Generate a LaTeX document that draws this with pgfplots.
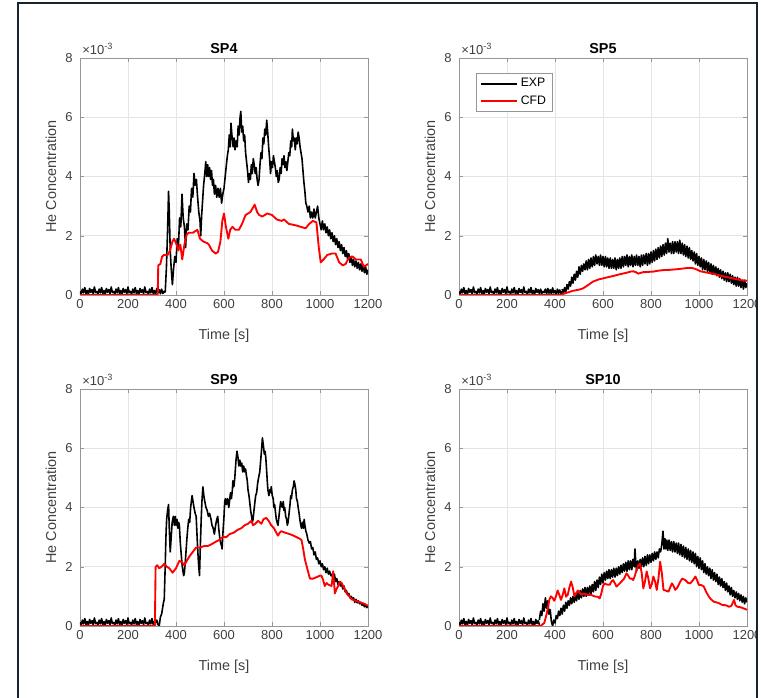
\documentclass[border=0pt]{standalone}
\usepackage{pgfplots}
\pgfplotsset{compat=1.18}
\usepackage{pgfplotstable}
\usepackage{fontspec}
\setmainfont{Liberation Sans}

\definecolor{axgray}{RGB}{150,150,150}
\definecolor{txtgray}{RGB}{64,64,64}
\definecolor{gridgray}{RGB}{228,228,228}
\definecolor{framec}{RGB}{25,35,45}

\tikzset{
  exp/.style={black, line width=1.2pt, line join=round},
  cfd/.style={red, line width=1.4pt, line join=round},
}

\pgfplotsset{
  panel/.style={
    scale only axis, width=216pt, height=177.75pt, anchor=south west,
    xmin=0, xmax=1200, ymin=0, ymax=8,
    xtick={0,200,...,1200}, ytick={0,2,...,8},
    /pgf/number format/1000 sep={},
    /pgf/number format/assume math mode=true,
    tick align=inside, major tick length=3pt,
    grid=major, major grid style={draw=gridgray, line width=0.5pt},
    axis line style={draw=axgray}, tick style={draw=axgray},
    ticklabel style={font=\fontsize{9.75}{11}\selectfont, text=txtgray},
    yticklabel style={xshift=-2pt},
    xlabel={Time [s]}, ylabel={He Concentration},
    label style={font=\fontsize{10.8}{12}\selectfont, text=txtgray},
    xlabel style={yshift=-8pt},
    title style={font=\fontsize{10.8}{12}\selectfont\bfseries, yshift=-6.5pt},
    after end axis/.code={
      \node[anchor=base west, inner sep=0pt, xshift=1.5pt, yshift=2.5pt,
            font=\fontsize{9.75}{11}\selectfont, text=txtgray]
        at (rel axis cs:0,1) {×10\textsuperscript{-3}};
    },
  },
}

% shared noisy baseline of the measurements (x 10^-3)
\pgfplotstableread{
t c
0 .12
5 .03
10 .2
15 .07
20 .25
25 .05
30 .15
35 .02
40 .22
45 .09
50 .18
55 .04
60 .27
65 .08
70 .12
75 .03
80 .2
85 .07
90 .25
95 .05
100 .15
105 .02
110 .22
115 .09
120 .18
125 .04
130 .27
135 .08
140 .12
145 .03
150 .2
155 .07
160 .25
165 .05
170 .15
175 .02
180 .22
185 .09
190 .18
195 .04
200 .27
205 .08
210 .12
215 .03
220 .2
225 .07
230 .25
235 .05
240 .15
245 .02
250 .22
255 .09
260 .18
265 .04
270 .27
275 .08
280 .12
285 .03
290 .2
295 .07
300 .25
305 .05
310 .15
315 .02
320 .22
325 .09
330 .18
335 .04
340 .2
345 .05
350 .12
355 .08
360 .2
365 .04
370 .22
375 .06
380 .18
385 .03
390 .24
395 .07
400 .15
405 .02
410 .2
415 .06
420 .17
425 .04
430 .12
}\base

\begin{document}
\begin{tikzpicture}
\path[use as bounding box] (0pt,0pt) rectangle (570.75pt,523.5pt);
\begin{scope}
\clip (0pt,0pt) rectangle (566.25pt,523.5pt);

% ---------------- SP4 ----------------
\begin{axis}[panel, at={(60pt,302.25pt)}, title={SP4}]
\addplot[exp, restrict x to domain=0:355] table {\base};
\addplot[exp] coordinates {(355,.1)(360,.9)(365,2.2)(369,3.5)(372,2.8)(376,1.5)(380,.9)(385,.35)(390,.9)(395,1.3)(400,1.1)(405,1.9)(410,1.6)(415,2.6)(420,2.3)(425,3.4)(430,2.6)(435,2.3)(440,1.6)(445,2.4)(450,2.2)(455,3.0)(460,2.8)(465,3.6)(470,3.3)(475,4.1)(480,3.7)(485,3.9)(490,3.3)(495,2.8)(500,2.5)(503,2.0)(507,2.7)(511,3.2)(515,3.7)(520,4.1)(524,4.5)(528,4.0)(532,4.4)(536,4.0)(540,4.3)(544,3.9)(548,4.2)(552,3.7)(556,3.9)(560,3.4)(565,3.7)(570,3.3)(575,3.6)(580,3.3)(585,3.6)(590,3.1)(595,3.4)(600,3.6)(605,4.0)(610,4.4)(614,4.7)(618,4.9)(622,5.4)(626,5.0)(629,5.8)(633,5.4)(638,5.0)(642,5.3)(646,4.9)(650,5.2)(655,5.0)(659,5.7)(663,5.4)(667,6.0)(670,6.2)(674,5.5)(678,5.7)(682,5.2)(686,5.4)(690,4.8)(694,4.5)(698,4.2)(702,3.8)(706,4.1)(710,3.9)(714,4.4)(718,4.1)(722,4.6)(726,4.4)(730,4.1)(734,4.3)(738,3.9)(742,3.7)(746,3.9)(750,4.4)(754,4.8)(758,4.6)(762,5.3)(766,5.1)(770,5.6)(774,5.4)(778,5.9)(782,5.5)(786,5.0)(790,4.6)(794,4.1)(798,4.5)(802,4.3)(806,4.7)(810,4.5)(814,4.3)(818,4.0)(822,4.2)(826,3.8)(830,3.9)(834,4.3)(838,4.1)(842,4.6)(846,4.4)(850,4.7)(854,4.3)(858,4.5)(862,4.2)(866,4.5)(870,4.8)(874,4.7)(878,5.2)(882,5.0)(885,5.6)(889,5.2)(893,5.3)(897,4.9)(901,5.3)(905,5.1)(909,5.5)(913,5.3)(917,5.0)(921,4.8)(925,4.6)(929,4.2)(933,3.8)(937,3.5)(941,3.1)(945,3.0)(950,2.8)(955,3.0)(960,2.6)(965,2.8)(970,2.6)(975,2.9)(980,2.6)(985,2.8)(990,3.0)(995,2.6)(1000,2.4)(1005,2.2)(1010,2.5)(1015,2.2)(1020,2.4)(1025,2.1)(1030,2.3)(1035,2.0)(1040,2.2)(1045,1.9)(1050,2.1)(1055,1.8)(1060,2.0)(1065,1.7)(1070,1.9)(1075,1.6)(1080,1.8)(1085,1.5)(1090,1.7)(1095,1.4)(1100,1.6)(1105,1.3)(1110,1.5)(1115,1.2)(1120,1.4)(1125,1.1)(1130,1.3)(1135,1.0)(1140,1.2)(1145,.95)(1150,1.15)(1155,.9)(1160,1.1)(1165,.85)(1170,1.05)(1175,.8)(1180,1.0)(1185,.75)(1190,.95)(1195,.7)(1200,.85)};
\addplot[cfd] coordinates {(0,0)(324,0)(326,1.0)(335,1.05)(342,1.3)(350,1.35)(365,1.35)(375,1.5)(385,1.8)(392,1.9)(400,1.75)(410,1.5)(418,1.7)(426,1.2)(435,1.7)(445,2.05)(454,2.1)(470,2.1)(489,2.2)(500,1.9)(515,1.8)(530,1.75)(537,1.7)(550,1.5)(565,1.4)(575,1.45)(585,1.8)(593,2.5)(600,2.75)(608,2.3)(618,1.9)(626,2.2)(635,2.3)(648,2.2)(662,2.2)(675,2.4)(690,2.7)(710,2.8)(728,3.05)(738,2.8)(746,2.7)(760,2.65)(780,2.75)(800,2.7)(820,2.55)(840,2.5)(850,2.55)(870,2.4)(900,2.35)(920,2.3)(940,2.25)(955,2.4)(970,2.5)(985,2.45)(995,1.6)(1003,1.1)(1015,1.2)(1030,1.35)(1050,1.4)(1065,1.4)(1080,1.1)(1095,1.0)(1107,1.05)(1120,1.25)(1135,1.3)(1150,1.2)(1170,1.2)(1183,.95)(1192,1.0)(1200,1.05)};
\end{axis}

% ---------------- SP5 ----------------
\begin{axis}[panel, at={(344.25pt,302.25pt)}, title={SP5},
  legend style={at={(rel axis cs:0.059,0.937)}, anchor=north west,
    draw=axgray, fill=white, font=\fontsize{9.2}{10}\selectfont,
    inner xsep=3pt, inner ysep=2pt, row sep=1pt, cells={anchor=west}},
  legend image code/.code={\draw[#1] (0pt,0pt) -- (27pt,0pt);}]
\addplot[exp, forget plot, restrict x to domain=0:430] table {\base};
\addplot[exp] coordinates {(430,.2)(435,.05)(440,.25)(445,.1)(450,.35)(455,.2)(460,.45)(465,.3)(470,.6)(475,.4)(480,.7)(485,.5)(490,.8)(495,.6)(500,.95)(505,.7)(510,1.0)(515,.8)(520,1.05)(525,.85)(530,1.15)(535,.85)(540,1.2)(545,.9)(550,1.25)(555,.95)(560,1.3)(565,1.0)(570,1.35)(575,1.05)(580,1.3)(585,1.0)(590,1.35)(595,1.0)(600,1.3)(605,.95)(610,1.3)(615,.95)(620,1.25)(625,.9)(630,1.25)(635,.9)(640,1.2)(645,.9)(650,1.25)(655,.85)(660,1.2)(665,.9)(670,1.25)(675,.9)(680,1.3)(685,.95)(690,1.3)(695,1.0)(700,1.35)(705,.95)(710,1.3)(715,1.0)(720,1.35)(725,.95)(730,1.3)(735,1.0)(740,1.35)(745,1.0)(750,1.3)(755,.95)(760,1.35)(765,1.0)(770,1.35)(775,1.05)(780,1.4)(785,1.0)(790,1.4)(795,1.05)(800,1.45)(805,1.1)(810,1.5)(815,1.15)(820,1.55)(825,1.2)(830,1.6)(835,1.25)(840,1.65)(845,1.3)(850,1.7)(855,1.35)(860,1.75)(865,1.4)(870,1.9)(875,1.45)(880,1.75)(885,1.4)(890,1.8)(895,1.4)(900,1.8)(905,1.45)(910,1.8)(915,1.4)(920,1.85)(925,1.4)(930,1.75)(935,1.35)(940,1.7)(945,1.3)(950,1.65)(955,1.25)(960,1.6)(965,1.2)(970,1.5)(975,1.15)(980,1.45)(985,1.05)(990,1.4)(995,1.0)(1000,1.3)(1005,.95)(1010,1.25)(1015,.85)(1020,1.2)(1025,.85)(1030,1.15)(1035,.8)(1040,1.1)(1045,.75)(1050,1.05)(1055,.7)(1060,1.0)(1065,.7)(1070,.95)(1075,.65)(1080,.9)(1085,.6)(1090,.85)(1095,.55)(1100,.8)(1105,.5)(1110,.75)(1115,.45)(1120,.75)(1125,.45)(1130,.7)(1135,.4)(1140,.65)(1145,.35)(1150,.6)(1155,.3)(1160,.6)(1165,.3)(1170,.55)(1175,.25)(1180,.5)(1185,.2)(1190,.5)(1195,.25)(1200,.4)};
\addlegendentry{EXP}
\addplot[cfd] coordinates {(0,0)(420,0)(440,.05)(474,.14)(500,.18)(516,.22)(535,.32)(558,.45)(580,.52)(600,.56)(620,.6)(642,.64)(670,.7)(698,.75)(715,.79)(726,.8)(737,.77)(747,.72)(758,.75)(768,.77)(790,.78)(810,.79)(830,.82)(852,.84)(880,.85)(908,.87)(930,.89)(950,.91)(970,.91)(985,.88)(1006,.8)(1030,.76)(1062,.71)(1090,.65)(1118,.6)(1146,.55)(1174,.5)(1200,.48)};
\addlegendentry{CFD}
\end{axis}

% ---------------- SP9 ----------------
\begin{axis}[panel, at={(60pt,54pt)}, title={SP9}]
\addplot[exp, restrict x to domain=0:315] table {\base};
\addplot[exp] coordinates {(315,.1)(320,.2)(325,.05)(330,0)(335,.3)(340,.4)(344,.6)(348,.8)(351,.9)(355,2.0)(358,3.0)(361,3.6)(365,3.9)(369,4.1)(372,3.3)(376,2.5)(380,3.0)(384,3.5)(389,3.7)(393,3.4)(397,3.7)(400,3.4)(404,3.6)(408,3.3)(411,3.5)(414,3.4)(418,2.8)(422,2.4)(425,2.1)(428,1.9)(432,1.7)(435,1.8)(440,2.3)(445,2.9)(449,3.3)(453,3.6)(457,3.5)(461,4.0)(464,4.2)(467,4.4)(471,4.2)(475,4.0)(480,3.8)(484,3.7)(488,3.0)(491,2.5)(494,2.1)(498,1.7)(501,2.6)(505,3.6)(508,4.2)(512,4.7)(516,4.4)(520,4.2)(525,4.0)(530,3.9)(535,3.7)(540,3.8)(546,3.6)(550,3.4)(555,3.3)(560,3.1)(565,3.4)(570,3.6)(574,3.7)(578,3.3)(582,3.0)(586,2.8)(590,2.7)(592,2.6)(596,3.2)(600,3.7)(603,4.2)(606,4.3)(610,4.1)(615,4.3)(620,4.0)(623,4.2)(627,4.5)(631,4.3)(635,4.6)(637,4.9)(641,4.7)(645,5.0)(650,5.6)(654,5.9)(658,5.7)(662,5.4)(666,5.6)(670,5.4)(674,5.5)(678,5.2)(682,5.4)(686,5.2)(690,5.3)(693,5.1)(697,4.9)(700,4.6)(704,4.4)(707,4.2)(711,3.9)(715,3.7)(718,3.5)(721,3.6)(725,3.9)(729,4.2)(732,4.4)(736,4.5)(740,4.8)(744,5.0)(749,5.2)(753,5.6)(757,6.0)(760,6.35)(764,6.1)(768,5.8)(771,5.9)(774,5.7)(778,5.2)(781,4.8)(783,4.6)(787,4.4)(791,4.6)(794,4.5)(797,4.7)(801,4.4)(805,4.3)(808,4.0)(811,4.1)(815,3.8)(818,3.6)(821,3.5)(825,3.4)(829,3.7)(833,4.0)(836,4.2)(839,4.1)(843,4.0)(847,4.2)(850,3.9)(853,4.0)(857,3.7)(861,3.6)(864,3.4)(867,3.5)(871,3.8)(875,4.1)(878,4.4)(881,4.3)(885,4.6)(889,4.7)(892,4.9)(895,4.8)(899,4.6)(902,4.3)(906,4.2)(909,4.0)(913,3.8)(916,3.6)(920,3.4)(923,3.3)(927,3.5)(931,3.3)(934,3.6)(937,3.4)(941,3.2)(945,3.1)(950,2.9)(955,2.8)(960,2.85)(965,2.6)(970,2.65)(975,2.4)(980,2.5)(985,2.25)(990,2.3)(995,2.1)(1000,2.2)(1005,2.0)(1010,2.1)(1015,1.9)(1020,2.0)(1025,1.8)(1030,1.95)(1035,1.75)(1040,1.85)(1045,1.7)(1050,1.75)(1055,1.55)(1060,1.75)(1065,1.5)(1070,1.6)(1075,1.4)(1080,1.5)(1085,1.35)(1090,1.45)(1095,1.25)(1100,1.35)(1105,1.15)(1110,1.2)(1115,1.05)(1120,1.1)(1125,.95)(1130,1.0)(1135,.9)(1140,.95)(1145,.8)(1150,.9)(1155,.78)(1160,.85)(1165,.75)(1170,.8)(1175,.7)(1180,.75)(1185,.65)(1190,.7)(1195,.62)(1200,.68)};
\addplot[cfd] coordinates {(0,0)(312,0)(315,2.0)(322,2.05)(330,1.95)(340,2.0)(351,2.1)(362,2.0)(372,1.95)(386,1.8)(400,1.95)(414,2.2)(425,2.15)(435,2.05)(445,2.2)(456,2.35)(470,2.5)(484,2.65)(500,2.65)(518,2.7)(532,2.7)(546,2.75)(567,2.85)(580,2.9)(595,3.0)(610,3.0)(623,3.1)(640,3.15)(658,3.25)(672,3.3)(686,3.4)(700,3.45)(707,3.5)(714,3.55)(721,3.4)(730,3.45)(742,3.55)(749,3.5)(756,3.45)(764,3.6)(776,3.65)(786,3.55)(797,3.4)(808,3.3)(818,3.15)(825,3.05)(832,3.15)(839,3.2)(855,3.15)(874,3.1)(890,3.05)(902,3.0)(915,2.95)(923,2.9)(930,2.6)(937,2.25)(945,2.0)(958,1.6)(972,1.6)(986,1.65)(1000,1.7)(1006,1.7)(1013,1.55)(1020,1.35)(1028,1.45)(1034,1.4)(1048,1.35)(1052,1.6)(1055,1.85)(1058,1.5)(1062,1.1)(1069,1.25)(1076,1.35)(1083,1.5)(1090,1.45)(1100,1.3)(1111,1.1)(1122,1.0)(1132,.9)(1150,.85)(1167,.8)(1185,.75)(1200,.68)};
\end{axis}

% ---------------- SP10 ----------------
\begin{axis}[panel, at={(344.25pt,54pt)}, title={SP10}]
\addplot[exp, restrict x to domain=0:335] table {\base};
\addplot[exp] coordinates {(335,.2)(340,.5)(345,.35)(350,.75)(355,.5)(360,.95)(365,.6)(370,.85)(375,.4)(380,.55)(385,.15)(390,0)(395,.2)(400,.1)(405,.35)(410,.25)(415,.5)(420,.35)(425,.6)(430,.4)(435,.7)(440,.5)(445,.8)(450,.6)(455,.85)(460,.7)(465,.95)(470,.75)(475,1.0)(480,.8)(485,1.1)(490,.85)(495,1.15)(500,.9)(505,1.2)(510,.95)(515,1.25)(520,1.0)(525,1.3)(530,1.0)(535,1.3)(540,1.05)(545,1.35)(550,1.1)(555,1.4)(560,1.15)(565,1.5)(570,1.2)(575,1.55)(580,1.3)(585,1.65)(590,1.4)(595,1.75)(600,1.45)(605,1.8)(610,1.55)(615,1.85)(620,1.6)(625,1.9)(630,1.6)(635,1.9)(640,1.65)(645,1.95)(650,1.65)(655,1.95)(660,1.7)(665,2.0)(670,1.75)(675,2.05)(680,1.8)(685,2.1)(690,1.85)(695,2.15)(700,1.85)(705,2.2)(710,1.9)(715,2.2)(720,1.9)(725,2.25)(730,2.0)(733,2.6)(737,2.1)(740,1.85)(745,2.2)(750,1.95)(755,2.25)(760,2.0)(765,2.3)(770,2.0)(775,2.35)(780,2.05)(785,2.4)(790,2.1)(795,2.4)(800,2.15)(805,2.45)(810,2.2)(815,2.5)(820,2.25)(825,2.5)(830,2.3)(835,2.6)(840,2.5)(845,2.75)(850,3.2)(854,2.6)(858,2.95)(862,2.6)(866,2.9)(870,2.55)(875,2.9)(880,2.55)(885,2.85)(890,2.5)(895,2.85)(900,2.5)(905,2.8)(910,2.45)(915,2.8)(920,2.4)(925,2.75)(930,2.35)(935,2.7)(940,2.3)(945,2.65)(950,2.25)(955,2.6)(960,2.2)(965,2.55)(970,2.15)(975,2.5)(980,2.1)(985,2.45)(990,2.0)(995,2.35)(1000,1.95)(1005,2.3)(1010,1.9)(1015,2.2)(1020,1.8)(1025,2.1)(1030,1.75)(1035,2.0)(1040,1.7)(1045,1.95)(1050,1.6)(1055,1.9)(1060,1.55)(1065,1.8)(1070,1.5)(1075,1.75)(1080,1.4)(1085,1.65)(1090,1.35)(1095,1.6)(1100,1.3)(1105,1.5)(1110,1.2)(1115,1.45)(1120,1.15)(1125,1.35)(1130,1.05)(1135,1.3)(1140,1.0)(1145,1.2)(1150,.95)(1155,1.15)(1160,.9)(1165,1.1)(1170,.85)(1175,1.05)(1180,.8)(1185,1.0)(1190,.75)(1195,.95)(1200,.8)};
\addplot[cfd] coordinates {(0,0)(340,0)(355,.1)(362,.3)(369,.54)(376,.88)(383,1.0)(390,.95)(397,.85)(404,1.0)(411,1.2)(418,1.05)(425,.88)(432,1.05)(439,1.27)(446,.99)(453,1.05)(460,1.3)(467,1.5)(474,1.3)(481,1.0)(488,1.1)(495,1.2)(502,1.15)(509,1.05)(520,1.1)(537,1.05)(550,1.05)(565,1.0)(580,.98)(586,.93)(593,1.1)(600,1.35)(607,1.44)(615,1.4)(628,1.39)(635,1.5)(642,1.55)(649,1.45)(656,1.33)(665,1.4)(677,1.5)(688,1.6)(698,1.78)(705,1.7)(712,1.6)(720,1.6)(726,1.55)(733,1.7)(740,1.9)(747,2.05)(754,2.1)(761,1.8)(768,1.27)(775,1.5)(782,1.84)(789,1.6)(796,1.27)(803,1.4)(810,1.67)(817,1.5)(824,1.22)(831,1.6)(838,2.17)(845,1.8)(852,1.22)(860,1.2)(873,1.16)(880,1.3)(887,1.44)(894,1.35)(901,1.22)(910,1.3)(922,1.5)(930,1.6)(943,1.55)(955,1.45)(964,1.44)(975,1.55)(985,1.67)(992,1.55)(999,1.39)(1010,1.38)(1020,1.33)(1030,1.15)(1041,.99)(1050,.9)(1062,.82)(1080,.78)(1097,.71)(1112,.7)(1125,.65)(1135,.68)(1146,.88)(1152,.7)(1160,.65)(1174,.63)(1190,.58)(1200,.55)};
\end{axis}
\end{scope}

\draw[framec, line width=1.6pt] (13.5pt,0pt) -- (13.5pt,521.25pt) -- (567.75pt,521.25pt) -- (567.75pt,0pt);
\end{tikzpicture}
\end{document}
